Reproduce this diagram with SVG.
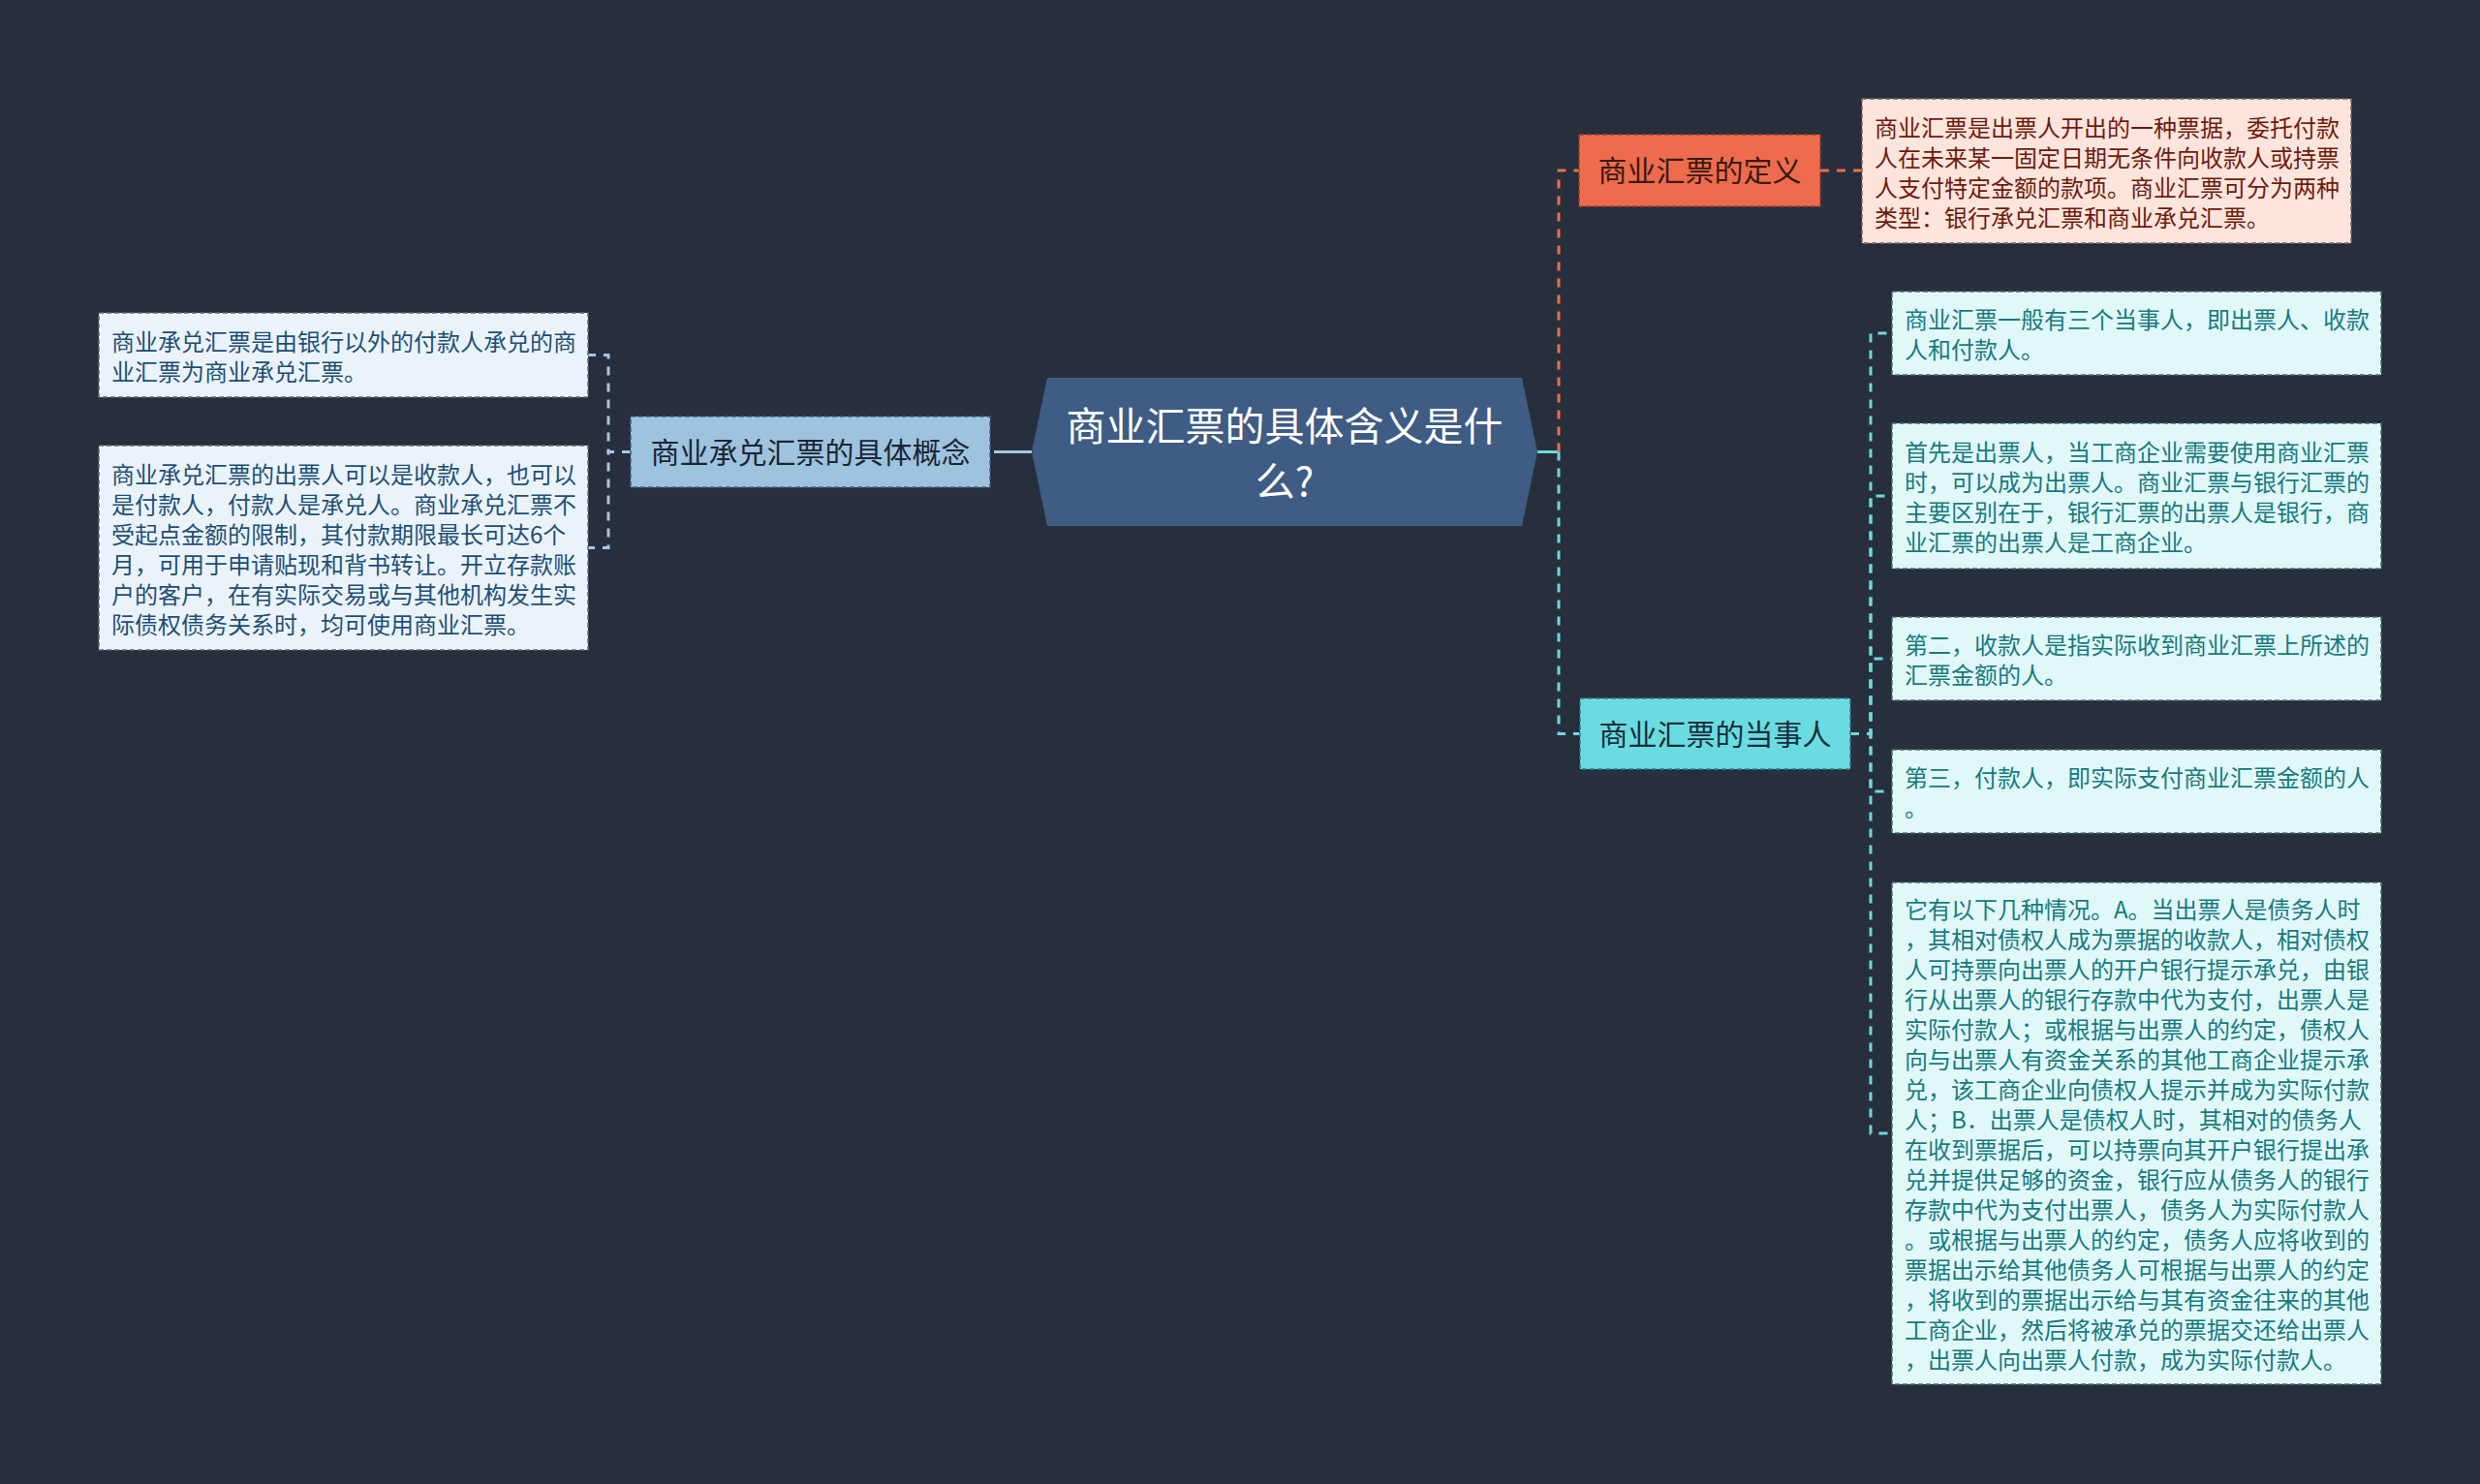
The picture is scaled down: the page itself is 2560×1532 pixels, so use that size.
<svg xmlns="http://www.w3.org/2000/svg" width="2560" height="1532" viewBox="0 0 2560 1532">
<style>
text{font-family:"Noto Sans CJK SC","Noto Sans",sans-serif;}
.lbl{font-size:30px;text-anchor:middle;}
.bt{font-size:24px;}
.cn{fill:none;stroke-width:3;stroke-dasharray:9 8;}
.box{stroke-width:1.5;stroke-dasharray:5 3;}
</style>
<rect x="0" y="0" width="2560" height="1532" fill="#272F3D"/>

<g id="connectors">
  <!-- left -->
  <line x1="1065" y1="466.5" x2="1035" y2="466.5" stroke="#A3C8E2" stroke-width="3"/>
  <path class="cn" stroke="#A3C8E2" d="M1035 466.5 H1022"/>
  <path class="cn" stroke="#A3C8E2" d="M651 466.5 H628 V366.5 H607"/>
  <path class="cn" stroke="#A3C8E2" d="M651 466.5 H628 V565.5 H607"/>
  <!-- right -->
  <line x1="1587" y1="466.5" x2="1609" y2="466.5" stroke="#6FD8DF" stroke-width="3"/>
  <path class="cn" stroke="#E8714F" d="M1609 466.5 V176 H1630"/>
  <path class="cn" stroke="#6FD8DF" d="M1609 466.5 V757.5 H1631"/>
  <path class="cn" stroke="#E8714F" d="M1879 176 H1922"/>
  <path class="cn" stroke="#6FD8DF" d="M1910 757.5 H1931 V344 H1953"/>
  <path class="cn" stroke="#6FD8DF" d="M1910 757.5 H1931 V512 H1953"/>
  <path class="cn" stroke="#6FD8DF" d="M1910 757.5 H1931 V680 H1953"/>
  <path class="cn" stroke="#6FD8DF" d="M1910 757.5 H1931 V817 H1953"/>
  <path class="cn" stroke="#6FD8DF" d="M1910 757.5 H1931 V1170 H1953"/>
</g>

<g id="center">
  <polygon points="1065,466.5 1081,390 1571,390 1587,466.5 1571,543 1081,543" fill="#3E5C84"/>
  <text x="1326" y="455" fill="#FFFFFF" font-size="41" text-anchor="middle">商业汇票的具体含义是什</text>
  <text x="1326" y="512" fill="#FFFFFF" font-size="41" text-anchor="middle">么?</text>
</g>

<g id="n-def">
  <rect class="box" x="1630" y="139" width="249" height="74" fill="#EF6B4D" stroke="#9E3F2A"/>
  <text class="lbl" x="1754.5" y="187" fill="#3A1A12">商业汇票的定义</text>
</g>

<g id="n-def-text">
  <rect class="box" x="1922" y="102" width="505" height="149" fill="#FDE4DD" stroke="#7A6460"/>
  <text class="bt" fill="#6E1B0B">
    <tspan x="1935" y="140.5">商业汇票是出票人开出的一种票据，委托付款</tspan>
    <tspan x="1935" y="171.5">人在未来某一固定日期无条件向收款人或持票</tspan>
    <tspan x="1935" y="202.5">人支付特定金额的款项。商业汇票可分为两种</tspan>
    <tspan x="1935" y="233.5">类型：银行承兑汇票和商业承兑汇票。</tspan>
  </text>
</g>

<g id="n-party">
  <rect class="box" x="1631" y="721" width="279" height="73" fill="#6BDBE2" stroke="#2F7C84"/>
  <text class="lbl" x="1770.5" y="768.5" fill="#17303A">商业汇票的当事人</text>
</g>

<g id="n-p1">
  <rect class="box" x="1953" y="301" width="505" height="86" fill="#E1F8F8" stroke="#4C6B70"/>
  <text class="bt" fill="#177A80">
    <tspan x="1966" y="339">商业汇票一般有三个当事人，即出票人、收款</tspan>
    <tspan x="1966" y="370">人和付款人。</tspan>
  </text>
</g>

<g id="n-p2">
  <rect class="box" x="1953" y="437" width="505" height="150" fill="#E1F8F8" stroke="#4C6B70"/>
  <text class="bt" fill="#177A80">
    <tspan x="1966" y="476">首先是出票人，当工商企业需要使用商业汇票</tspan>
    <tspan x="1966" y="507">时，可以成为出票人。商业汇票与银行汇票的</tspan>
    <tspan x="1966" y="538">主要区别在于，银行汇票的出票人是银行，商</tspan>
    <tspan x="1966" y="569">业汇票的出票人是工商企业。</tspan>
  </text>
</g>

<g id="n-p3">
  <rect class="box" x="1953" y="637" width="505" height="86" fill="#E1F8F8" stroke="#4C6B70"/>
  <text class="bt" fill="#177A80">
    <tspan x="1966" y="675">第二，收款人是指实际收到商业汇票上所述的</tspan>
    <tspan x="1966" y="706">汇票金额的人。</tspan>
  </text>
</g>

<g id="n-p4">
  <rect class="box" x="1953" y="774" width="505" height="86" fill="#E1F8F8" stroke="#4C6B70"/>
  <text class="bt" fill="#177A80">
    <tspan x="1966" y="812">第三，付款人，即实际支付商业汇票金额的人</tspan>
    <tspan x="1966" y="843">。</tspan>
  </text>
</g>

<g id="n-p5">
  <rect class="box" x="1953" y="911" width="505" height="518" fill="#E1F8F8" stroke="#4C6B70"/>
  <text class="bt" fill="#177A80">
    <tspan x="1966" y="948">它有以下几种情况。A。当出票人是债务人时</tspan>
    <tspan x="1966" y="979">，其相对债权人成为票据的收款人，相对债权</tspan>
    <tspan x="1966" y="1010">人可持票向出票人的开户银行提示承兑，由银</tspan>
    <tspan x="1966" y="1041">行从出票人的银行存款中代为支付，出票人是</tspan>
    <tspan x="1966" y="1072">实际付款人；或根据与出票人的约定，债权人</tspan>
    <tspan x="1966" y="1103">向与出票人有资金关系的其他工商企业提示承</tspan>
    <tspan x="1966" y="1134">兑，该工商企业向债权人提示并成为实际付款</tspan>
    <tspan x="1966" y="1165">人；B．出票人是债权人时，其相对的债务人</tspan>
    <tspan x="1966" y="1196">在收到票据后，可以持票向其开户银行提出承</tspan>
    <tspan x="1966" y="1227">兑并提供足够的资金，银行应从债务人的银行</tspan>
    <tspan x="1966" y="1258">存款中代为支付出票人，债务人为实际付款人</tspan>
    <tspan x="1966" y="1289">。或根据与出票人的约定，债务人应将收到的</tspan>
    <tspan x="1966" y="1320">票据出示给其他债务人可根据与出票人的约定</tspan>
    <tspan x="1966" y="1351">，将收到的票据出示给与其有资金往来的其他</tspan>
    <tspan x="1966" y="1382">工商企业，然后将被承兑的票据交还给出票人</tspan>
    <tspan x="1966" y="1413">，出票人向出票人付款，成为实际付款人。</tspan>
  </text>
</g>

<g id="n-concept">
  <rect class="box" x="651" y="430" width="371" height="73" fill="#9EC3DF" stroke="#3E6280"/>
  <text class="lbl" x="836.5" y="477.5" fill="#1A2633">商业承兑汇票的具体概念</text>
</g>

<g id="n-c1">
  <rect class="box" x="102" y="323" width="505" height="87" fill="#EBF3FA" stroke="#5A6A78"/>
  <text class="bt" fill="#1D4F76">
    <tspan x="115" y="361.5">商业承兑汇票是由银行以外的付款人承兑的商</tspan>
    <tspan x="115" y="392.5">业汇票为商业承兑汇票。</tspan>
  </text>
</g>

<g id="n-c2">
  <rect class="box" x="102" y="460" width="505" height="211" fill="#EBF3FA" stroke="#5A6A78"/>
  <text class="bt" fill="#1D4F76">
    <tspan x="115" y="498.5">商业承兑汇票的出票人可以是收款人，也可以</tspan>
    <tspan x="115" y="529.5">是付款人，付款人是承兑人。商业承兑汇票不</tspan>
    <tspan x="115" y="560.5">受起点金额的限制，其付款期限最长可达6个</tspan>
    <tspan x="115" y="591.5">月，可用于申请贴现和背书转让。开立存款账</tspan>
    <tspan x="115" y="622.5">户的客户，在有实际交易或与其他机构发生实</tspan>
    <tspan x="115" y="653.5">际债权债务关系时，均可使用商业汇票。</tspan>
  </text>
</g>
</svg>
